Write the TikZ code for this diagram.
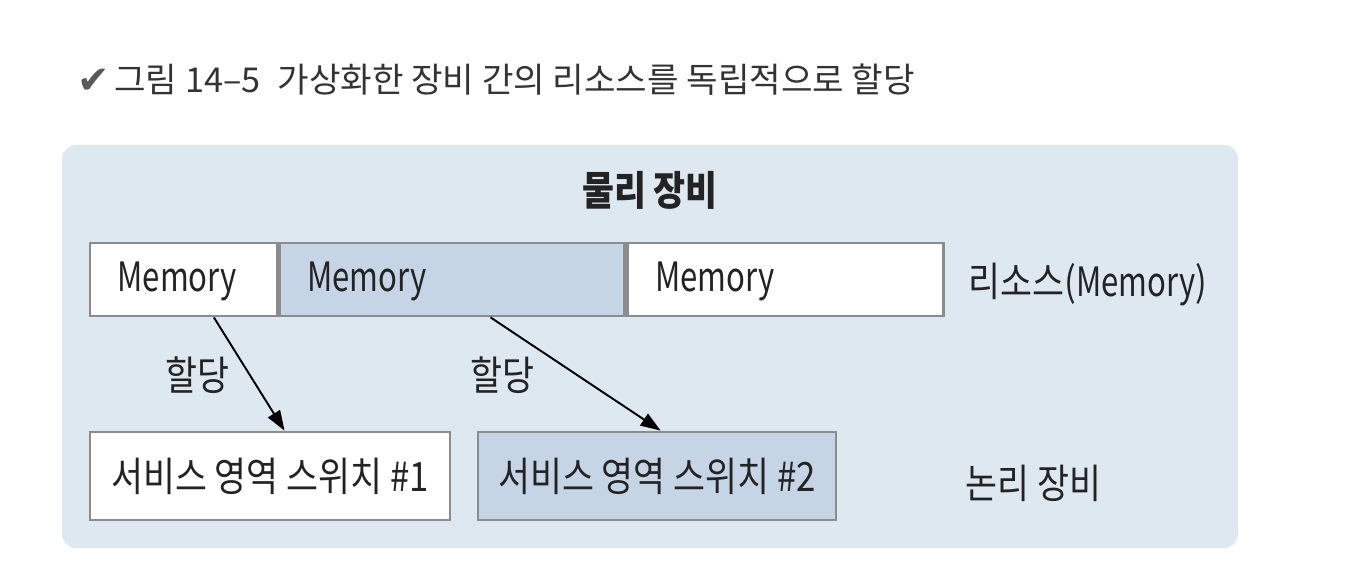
\documentclass[tikz,border=0pt]{standalone}
\usepackage{fontspec}
\setmainfont{Noto Sans CJK KR}
\newfontfamily\krnarrow[FakeStretch=0.86]{Noto Sans CJK KR}
\newfontfamily\latnarrow[FakeStretch=0.77]{Noto Sans CJK KR}
\newfontfamily\symfont{DejaVu Sans}
\usetikzlibrary{arrows.meta, calc, positioning}

\definecolor{panelblue}{RGB}{222,232,240}
\definecolor{boxblue}{RGB}{197,213,230}
\definecolor{boxline}{RGB}{140,140,140}
\definecolor{inktext}{RGB}{35,35,35}

\tikzset{
  membox/.style={draw=boxline, line width=1.6pt, minimum height=1.46cm, inner xsep=0.55cm,
    align=left, text depth=0.12cm, font=\latnarrow\fontsize{23}{26}\selectfont, text=inktext},
  swbox/.style={draw=boxline, line width=1.6pt, minimum height=1.76cm,
    font=\krnarrow\fontsize{23}{26}\selectfont, text=inktext},
  plain/.style={font=\krnarrow\fontsize{23}{26}\selectfont, text=inktext, inner sep=0pt},
  alloc/.style={-{Triangle[length=0.4cm, width=0.28cm]}, line width=1.1pt, black}
}

\begin{document}
\begin{tikzpicture}[x=0.02cm, y=-0.02cm]
    \useasboundingbox (0,0) rectangle (1366,584);
    \fill[white] (0,0) rectangle (1366,584);

    % title
    \node (check)[text=black!65, inner sep=0pt, font=\symfont\fontsize{22}{24}\selectfont] at (94,81) {✔};
    \node (title)[anchor=west, inner sep=0pt, text=black!80, font=\fontsize{19.5}{22}\selectfont] at (114,80) {그림 14–5\enspace 가상화한 장비 간의 리소스를 독립적으로 할당};

    % panel
    \fill[panelblue, rounded corners=8] (62,145) rectangle (1238,548);

    \node (phys)[plain, font=\krnarrow\bfseries\fontsize{23}{26}\selectfont] at (650,190) {물리 장비};

    % memory bar
    \node (m1)[membox, fill=white, text width=2.64cm] at (183.5,279.5) {Memory};
    \node (m2)[membox, fill=boxblue, text width=5.8cm, anchor=west] at (m1.east) {Memory};
    \node (m3)[membox, fill=white, text width=5.22cm, anchor=west] at (m2.east) {Memory};
    \node (res)[plain, anchor=west] at (968,285) {리소스({\latnarrow Memory})};

    % logical devices
    \node (s1)[swbox, fill=white, minimum width=7.2cm] at (270,476) {서비스 영역 스위치 \#1};
    \node (s2)[swbox, fill=boxblue, minimum width=7.16cm] at (657,476) {서비스 영역 스위치 \#2};
    \node (logic)[plain, anchor=west] at (965,483) {논리 장비};

    % allocation arrows
    \draw[alloc] ($(m1.south west)!0.66!(m1.south east)$) -- ($(s1.north west)!0.54!(s1.north east)$);
    \draw[alloc] ($(m2.south west)!0.61!(m2.south east)$) -- ($(s2.north west)!0.51!(s2.north east)$);
    \node (a1)[plain] at (197,375) {할당};
    \node (a2)[plain] at (502,375) {할당};

\end{tikzpicture}
\end{document}
